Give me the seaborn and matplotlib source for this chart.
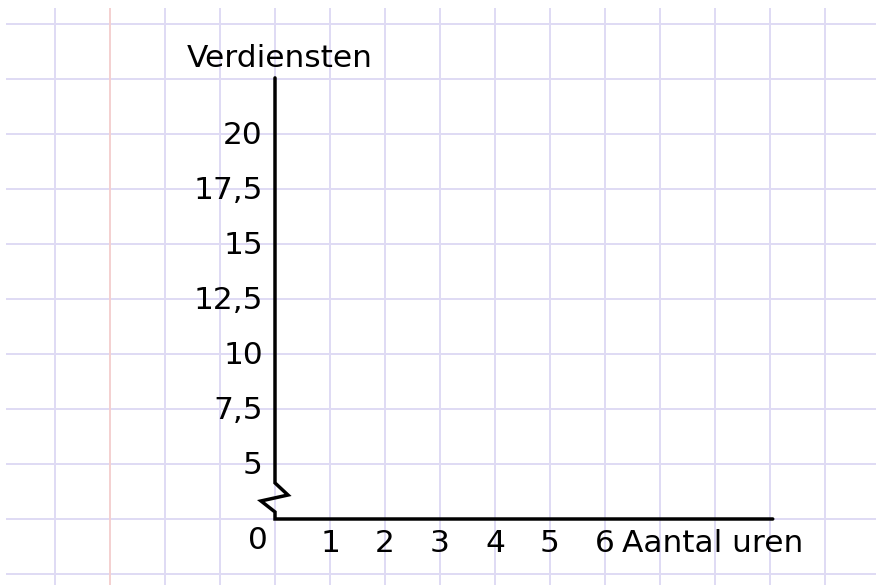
import numpy as np
import pandas as pd
import seaborn as sns
import matplotlib.pyplot as plt

# tick values and labels (Dutch decimal comma)
y_ticks = [5, 7.5, 10, 12.5, 15, 17.5, 20]
y_labels = ["5", "7,5", "10", "12,5", "15", "17,5", "20"]
x_ticks = [1, 2, 3, 4, 5, 6]
x_labels = ["1", "2", "3", "4", "5", "6"]
y_title = "Verdiensten"
x_title = "Aantal uren"

# axis with a break symbol near the origin (origin sits at 2.5, shown as 0)
axis_x = [0, 0, 0.236, -0.255, 0, 0, 9.05]
axis_y = [22.55, 4.14, 3.59, 3.32, 2.82, 2.5, 2.5]

sns.set_style("white")
plt.rcParams['font.family'] = ['DejaVu Sans']
plt.rcParams['text.color'] = 'black'

fig = plt.figure(figsize=(8.76, 5.85), dpi=100)
ax = fig.add_axes([0, 0, 1, 1])
ax.set_xlim(-5, 876 / 55 - 5)
ax.set_ylim(-0.5, 2.5 + 519 / 22)
ax.axis("off")

# squared paper
grid_col = "#dfdbf4"
ax.hlines(np.arange(0, 25.1, 2.5), -4.89, 11, color=grid_col, lw=1.4, zorder=0)
ax.vlines([v for v in range(-4, 11) if v != -3], -0.5, 25.73, color=grid_col, lw=1.4, zorder=0)
ax.vlines([-3], -0.5, 25.73, color="#f4d0d0", lw=1.4, zorder=0)

# the axes
axis_df = pd.DataFrame({"x": axis_x, "y": axis_y})
sns.lineplot(data=axis_df, x="x", y="y", sort=False, estimator=None,
             color="black", lw=2.5, ax=ax, solid_joinstyle="miter")

fs = 22.5
for v, lab in zip(y_ticks, y_labels):
    ax.text(-0.22, v - 0.45, lab, ha="right", va="baseline", fontsize=fs, color="black")
for v, lab in zip(x_ticks, x_labels):
    ax.text(v, 0.98, lab, ha="center", va="baseline", fontsize=fs, color="black")
ax.text(-0.13, 1.14, "0", ha="right", va="baseline", fontsize=fs, color="black")
ax.text(6.31, 0.98, x_title, ha="left", va="baseline", fontsize=fs, color="black")
ax.text(0.08, 23.05, y_title, ha="center", va="baseline", fontsize=fs, color="black")

plt.savefig("out.png", dpi=100)
